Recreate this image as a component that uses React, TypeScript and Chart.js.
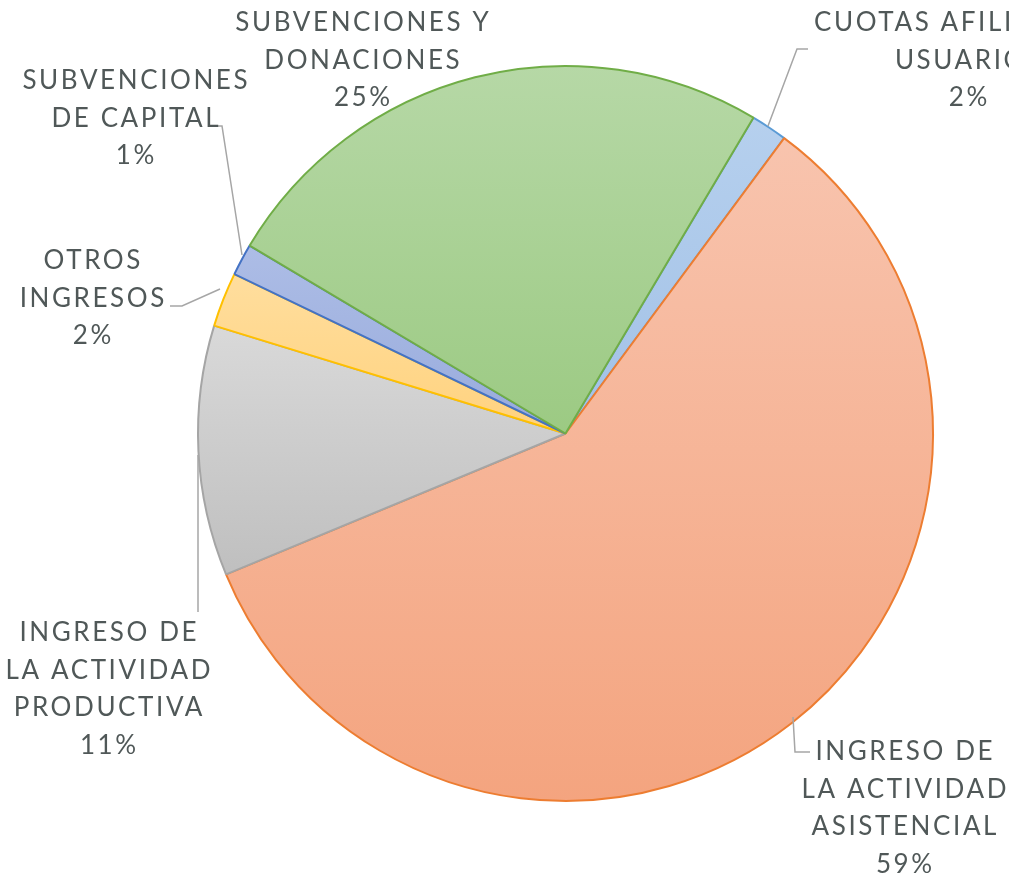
import React, { useEffect, useRef } from "react";
import { Chart, registerables } from "chart.js";

Chart.register(...registerables);

const categories: string[][] = [
  ["CUOTAS AFILIADOS Y", "USUARIOS"],
  ["INGRESO DE", "LA ACTIVIDAD", "ASISTENCIAL"],
  ["INGRESO DE", "LA ACTIVIDAD", "PRODUCTIVA"],
  ["OTROS", "INGRESOS"],
  ["SUBVENCIONES", "DE CAPITAL"],
  ["SUBVENCIONES Y", "DONACIONES"],
];
const values: number[] = [1.6, 58.6, 11.0, 2.4, 1.4, 25.0];

const borderColors = ["#5B9BD5", "#ED7D31", "#A5A5A5", "#FFC000", "#4472C4", "#70AD47"];
const gradTop = ["#B6D0EE", "#F8C4AE", "#D9D9D9", "#FFDE9E", "#ADBDE6", "#B6D8A6"];
const gradBottom = ["#A2C1E6", "#F4A47F", "#BFBFBF", "#FFD27E", "#98ABDC", "#9CCA83"];

const ROTATION = 30.75;

// label layout: [center x, first line y]
const labelAnchors: number[][] = [
  [968, 23],
  [904, 752],
  [108, 633],
  [92, 261],
  [135, 81],
  [362, 23],
];
// leader lines (polyline points)
const leaderLines: number[][][] = [
  [[768, 126], [797, 49], [808, 49]],
  [[793, 717], [795, 752], [810, 752]],
  [[198, 455], [198, 612]],
  [[220, 289], [182, 306], [170, 306]],
  [[242, 255], [222, 126], [213, 126]],
  [],
];

const LINE_H = 37.5;
const SPACING = 2.6;

function sectorGradient(ctx: any, fallbackIdx: number) {
  const chart = ctx.chart;
  const area = chart.chartArea;
  const i = ctx.dataIndex;
  if (!area || i === undefined) return gradBottom[fallbackIdx] || "#ccc";
  const cx = (area.left + area.right) / 2;
  const cy = (area.top + area.bottom) / 2;
  const r = Math.min(area.right - area.left, area.bottom - area.top) / 2;
  const total = values.reduce((a, b) => a + b, 0);
  let start = ((ROTATION - 90) * Math.PI) / 180;
  for (let k = 0; k < i; k++) start += (values[k] / total) * Math.PI * 2;
  const end = start + (values[i] / total) * Math.PI * 2;
  const ys = [cy, cy + r * Math.sin(start), cy + r * Math.sin(end)];
  for (const a of [-Math.PI / 2, Math.PI / 2]) {
    for (let m = -2; m <= 2; m++) {
      const aa = a + m * Math.PI * 2;
      if (aa >= start && aa <= end) ys.push(cy + r * Math.sin(aa));
    }
  }
  const y0 = Math.min(...ys);
  const y1 = Math.max(...ys);
  const g = chart.ctx.createLinearGradient(0, y0, 0, y1);
  g.addColorStop(0, gradTop[i]);
  g.addColorStop(1, gradBottom[i]);
  return g;
}

const labelPlugin = {
  id: "excelLabels",
  afterDraw(chart: any) {
    const ctx = chart.ctx;
    const total = values.reduce((a, b) => a + b, 0);
    ctx.save();
    ctx.strokeStyle = "#A6A6A6";
    ctx.lineWidth = 1.5;
    leaderLines.forEach((pts) => {
      if (!pts.length) return;
      ctx.beginPath();
      ctx.moveTo(pts[0][0], pts[0][1]);
      for (let k = 1; k < pts.length; k++) ctx.lineTo(pts[k][0], pts[k][1]);
      ctx.stroke();
    });
    ctx.fillStyle = "#505858";
    ctx.font = "26px Lato";
    (ctx as any).letterSpacing = SPACING + "px";
    ctx.textAlign = "center";
    ctx.textBaseline = "middle";
    categories.forEach((lines, i) => {
      const pct = Math.round((values[i] / total) * 100) + "%";
      const all = [...lines, pct];
      const [x, y] = labelAnchors[i];
      all.forEach((t, k) => {
        ctx.fillText(t, x + SPACING / 2, y + k * LINE_H);
      });
    });
    ctx.restore();
  },
};

export default function App() {
  const ref = useRef<HTMLCanvasElement | null>(null);
  useEffect(() => {
    if (!ref.current) return;
    const chart = new Chart(ref.current, {
      type: "pie",
      data: {
        labels: categories,
        datasets: [
          {
            data: values,
            backgroundColor: (c: any) => sectorGradient(c, 0),
            borderColor: borderColors,
            borderWidth: 2,
          },
        ],
      },
      options: {
        animation: false,
        responsive: true,
        maintainAspectRatio: false,
        rotation: ROTATION,
        layout: { padding: { left: 197, top: 65, right: 75, bottom: 77 } },
        plugins: {
          legend: { display: false },
          tooltip: { enabled: false },
        },
      },
      plugins: [labelPlugin],
    });
    return () => chart.destroy();
  }, []);
  return (
    <div style={{ position: "absolute", left: 0, top: 0, width: 1009, height: 879, background: "#fff" }}>
      <canvas ref={ref} />
    </div>
  );
}
